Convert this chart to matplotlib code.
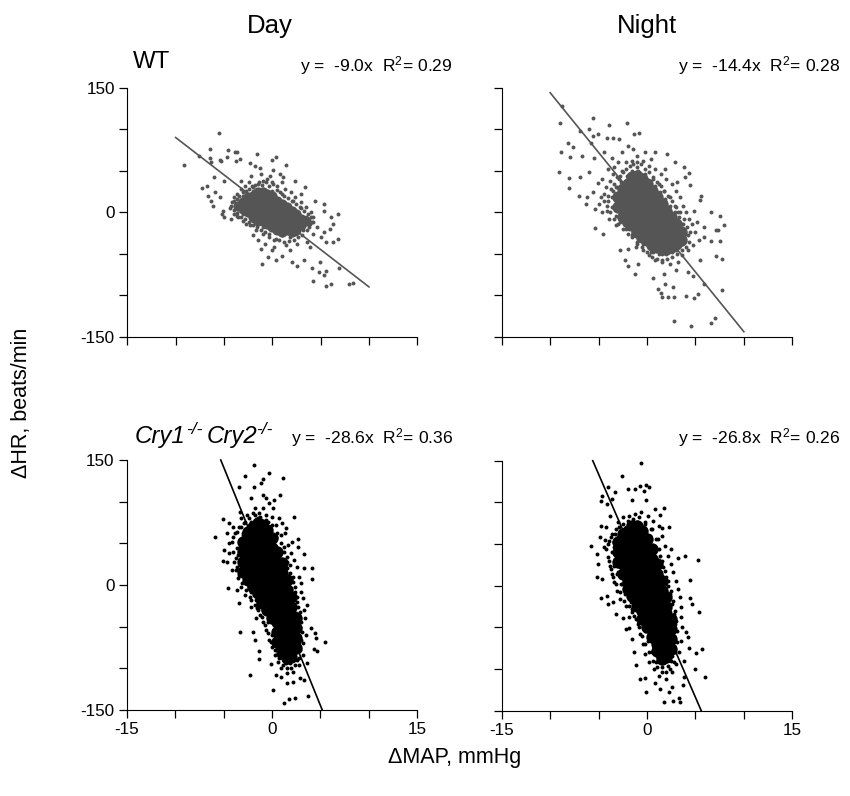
import matplotlib
matplotlib.use("Agg")
import matplotlib.pyplot as plt

plt.rcParams['font.family'] = ['Liberation Sans', 'DejaVu Sans']
plt.rcParams['mathtext.fontset'] = 'custom'
plt.rcParams['mathtext.rm'] = 'Liberation Sans'
plt.rcParams['mathtext.it'] = 'Liberation Sans:italic'

# solid part of each cloud, dMAP: [dHR, ...]
wt_day_core = {
    -3.5: [8], -3: [12, 4], -2.5: [18, 8, 0], -2: [20, 10, 2, -6], -1.5: [24, 14, 6, -4, -10],
    -1: [24, 16, 8, -2, -10], -0.5: [22, 14, 4, -6, -14], 0: [20, 10, 0, -10, -18],
    0.5: [14, 4, -6, -16, -22], 1: [10, 0, -10, -20, -24], 1.5: [6, -4, -14, -22],
    2: [2, -8, -18, -24], 2.5: [-2, -12, -22], 3: [-8, -16], 3.5: [-10],
}
wt_night_core = {
    -3: [18, 6], -2.5: [28, 16, 4, -6], -2: [34, 22, 10, -2, -12], -1.5: [42, 30, 18, 6, -6, -16],
    -1: [44, 32, 20, 8, -4, -16, -24], -0.5: [40, 28, 16, 4, -8, -20, -30],
    0: [34, 22, 10, -2, -14, -26, -34], 0.5: [26, 14, 2, -10, -22, -34, -40],
    1: [18, 6, -6, -18, -30, -42], 1.5: [10, -2, -14, -26, -38, -44], 2: [2, -10, -22, -34, -44],
    2.5: [-6, -18, -30, -42], 3: [-14, -26, -38], 3.5: [-24, -34],
}
cry_day_core = {
    -3: [52, 40, 28, 16], -2.5: [64, 52, 40, 28, 16, 6], -2: [70, 58, 46, 34, 22, 10, -2],
    -1.5: [74, 62, 50, 38, 26, 14, 2, -10], -1: [72, 60, 48, 36, 24, 12, 0, -12, -22],
    -0.5: [66, 54, 42, 30, 18, 6, -6, -18, -30], 0: [56, 44, 32, 20, 8, -4, -16, -28, -40],
    0.5: [40, 28, 16, 4, -8, -20, -32, -44, -56, -68], 1: [26, 14, 2, -10, -22, -34, -46, -58, -70, -82],
    1.5: [6, -6, -18, -30, -42, -54, -66, -78, -88], 2: [-14, -26, -38, -50, -62, -74, -86],
    2.5: [-40, -52, -64, -76],
}
cry_night_core = {
    -3: [52, 40, 28], -2.5: [62, 50, 38, 26, 14], -2: [66, 54, 42, 30, 18, 6, -4],
    -1.5: [72, 60, 48, 36, 24, 12, 0, -12], -1: [72, 60, 48, 36, 24, 12, 0, -12, -24],
    -0.5: [66, 54, 42, 30, 18, 6, -6, -18, -30, -40], 0: [56, 44, 32, 20, 8, -4, -16, -28, -40, -50],
    0.5: [44, 32, 20, 8, -4, -16, -28, -40, -52, -62], 1: [26, 14, 2, -10, -22, -34, -46, -58, -70, -78],
    1.5: [6, -6, -18, -30, -42, -54, -66, -78, -88], 2: [-14, -26, -38, -50, -62, -74, -86],
    2.5: [-40, -52, -64, -76],
}

# single dots (dMAP, dHR)
wt_day_pts = [
    (-9.1, 57), (-5.5, 96), (-6.4, 76), (-4.6, 75), (-3.9, 73), (-3.7, 72), (-7.6, 68), (-6.4, 65), (-4.7, 67),
    (-5.4, 63), (-5.3, 62), (-6.3, 61), (-3.3, 64), (-3.8, 62), (-1.6, 70), (0.4, 67), (0, 63), (1.4, 57),
    (-2.3, 59), (-1.8, 56), (-1.3, 53), (0.1, 51), (-7.3, 29), (-6.8, 32), (-6, 43), (-5, 37), (-5.9, 24),
    (-6.6, 20), (-6.3, 14), (-5.4, 18), (-6.1, 8), (-5.1, 2), (-5.2, -2), (-5, -6), (-4.3, -8), (-3.7, -4),
    (2.4, 38), (3.4, 30), (3, 22), (4.4, 14), (5.3, 10), (5.4, 2), (6.8, -2), (6.1, -6), (6.3, -14), (6, -20),
    (6.8, -32), (5.4, -24), (5.6, -36), (6.3, -36), (6.9, -67), (5.6, -71), (5.3, -76), (4.2, -83), (5.6, -89),
    (6.1, -87), (7.9, -87), (8.3, -85), (4.1, -67), (4.8, -72), (4.9, -60), (-1.1, -63), (-0.4, -54), (1, -53),
    (2, -60), (2.6, -65), (3.3, -57), (1.8, -46), (3.9, -42), (-1.2, -44), (-2, -28), (-2.7, -14), (0, -46), (0.4, -58),
    (-4.2, 12), (-4.4, 5), (-4, 18), (-3.6, 22), (-3.2, 28), (-2.8, 32), (-2.4, 36), (-2, 30), (-1.5, 34), (-1, 38),
    (-0.5, 40), (0, 36), (0.5, 32), (1, 36), (1.3, 28), (1.9, 24), (2.4, 18), (3, 12), (3.5, 6), (4, 0), (4.2, -6),
    (4.1, -12), (3.8, -18), (3.2, -22), (2.5, -26), (1.8, -30), (1, -28), (0.4, -32), (-0.3, -30), (-1, -26),
    (-1.7, -22), (-2.3, -16), (-3, -10), (-3.5, -6), (-4, -2), (-3, 20), (-2, 25), (-1, 28), (0, 26), (1, 22),
    (2, 14), (3, 5), (3.5, -6), (3, -15), (2, -20), (1, -22), (-1, -18), (-2, -10), (-3, -2), (-3.7, 8), (4.6, -18),
    (4.2, -26), (5, -30), (3.6, -36), (2.6, -38), (1.4, -40), (0.2, -42), (-0.8, -38), (-1.5, -34), (-3.2, 38),
    (-2.2, 44), (-1.2, 46), (-0.2, 44), (0.8, 46), (1.1, 42),
    (-4, 14), (-3.7, 16), (-3.4, 20), (-3, 24), (-2.7, 26), (-2.4, 28), (-2.1, 31), (-1.8, 33), (-1.4, 36), (-1.1, 33),
    (-0.7, 36), (-0.3, 32), (0.1, 34), (0.5, 27), (0.8, 24), (1.2, 20), (1.6, 17), (2.1, 14), (2.5, 10), (2.9, 6),
    (3.3, 2), (3.7, -2), (4, -6), (4.2, -12), (3.9, -14), (3.6, -21), (3.1, -27), (2.7, -30), (2.2, -33), (1.7, -35),
    (1.2, -36), (0.7, -34), (0.2, -33), (-0.3, -26), (-0.8, -24), (-1.2, -21), (-1.6, -18), (-2, -15), (-2.4, -12),
    (-2.8, -8), (-3.2, -6), (-3.6, -1), (-4, 3), (-4.3, 8),
]
wt_night_pts = [
    (-8.8, 128), (-9, 108), (-5.6, 114), (-3.9, 105), (-2.1, 107), (-6.9, 98), (-6, 100), (-5.1, 94), (-5.6, 92),
    (-8.2, 83), (-7.6, 78), (-8.9, 73), (-7.9, 67), (-6.7, 68), (-5.8, 83), (-4.1, 89), (-3.5, 89), (-2.9, 88),
    (-1.3, 94), (-0.8, 95), (-9.1, 49), (-8.1, 41), (-8.1, 29), (-6.9, 43), (-6, 49), (-7, 20), (-6.2, 18), (-6.3, 10),
    (-5.4, 4), (-5.4, -19), (-4.5, -26), (-5.1, 35), (-4.4, 73), (-5.5, 65), (-3.6, 65), (-4.6, 0), (-4.1, 2),
    (0.8, 73), (2.1, 70), (2.9, 60), (3.8, 55), (4.3, 47), (3.9, 43), (4.4, 33), (5.6, 20), (5.5, 15), (6.6, 0),
    (7.5, -4), (7.9, -16), (5.9, -18), (7.1, -22), (7.3, -22), (6.6, -35), (7.5, -35), (5.4, -34), (5.9, -30),
    (7.1, -53), (7.7, -56), (7.7, -94), (5.9, -86), (5.3, -98), (4.9, -103), (4, -101), (2.8, -131), (4.5, -137),
    (6.6, -134), (7, -127), (2.8, -102), (2.2, -102), (1.5, -102), (1.4, -97), (1.9, -86), (1.1, -92), (2.7, -90),
    (0.6, -79), (-1.2, -75), (-2, -65), (-2.3, -57), (-0.9, -63), (-2.8, -45), (-2, -44), (-1.1, -42), (4.2, -72),
    (4.7, -77), (5.5, -58), (3, -70), (1.8, -74),
    (-3.5, 46), (-3, 60), (-2.6, 72), (-2, 80), (-1.4, 76), (-1, 68), (-0.4, 62), (0.2, 56), (0.8, 52), (1.4, 46),
    (2, 40), (2.6, 34), (3, 26), (3.4, 18), (3.7, 8), (4, 0), (4.3, -8), (4.6, -14), (5, -24), (4.8, -40), (4.2, -46),
    (3.6, -52), (3.2, -60), (2.4, -62), (1.6, -60), (0.8, -58), (0.2, -52), (-0.4, -46), (-1, -36), (-1.6, -28),
    (-2.2, -20), (-2.8, -12), (-3.2, -4), (-3.6, 6), (-4, 14), (-4.4, 22), (-4.8, 18), (-4.2, 30), (-3.8, 38),
    (-3.2, 30), (-3, 20), (-3.1, 10), (-2.9, 40), (-2.6, 50), (-2.2, 60), (-1.6, 62), (-1, 54), (-0.2, 46), (0.6, 40),
    (1.2, 34), (1.8, 26), (2.4, 18), (2.9, 8), (3.2, 0), (3.6, -14), (3.8, -30), (3.2, -40), (2.6, -48), (1.6, -50),
    (0.6, -48), (-0.6, -32), (-1.4, -18), (-2.2, -6), (-2.8, 0), (-4.6, 40), (-4, 52), (-3.4, 54), (-5.6, 24), (-5, 10),
    (4.4, -24), (5.2, -12), (4.9, 2), (3.1, 36), (1.9, 52), (-0.2, 72), (0.4, 64), (-3.9, -8), (-3.2, -16),
    (-4, 20), (-3.7, 28), (-3.4, 34), (-3.1, 42), (-2.8, 44), (-2.5, 48), (-2.2, 52), (-1.8, 56), (-1.4, 58), (-1, 60),
    (-0.6, 58), (-0.2, 52), (0.2, 48), (0.6, 42), (1, 36), (1.4, 32), (1.8, 26), (2.2, 20), (2.6, 14), (3, 6), (3.4, 0),
    (3.8, -8), (4.1, -18), (4.2, -28), (4.3, -36), (4, -42), (3.6, -46), (3.1, -50), (2.6, -54), (2.1, -56), (1.6, -58),
    (1, -56), (0.5, -54), (0, -48), (-0.5, -42), (-1, -38), (-1.5, -30), (-2, -26), (-2.5, -20), (-3, -14), (-3.4, -8),
    (-3.8, 0), (-4.1, 8), (-4.4, 14), (-3.6, 18), (-3.4, 8), (-3.5, 26), (-3.1, 30), (-2.9, -6), (-2.4, -14), (-1.9, -20),
    (-1.4, -24), (-0.9, -32), (-0.4, -38), (0.4, -48), (1.2, -50), (2, -50), (3, -46), (3.6, -38), (3.9, -24), (3.7, -14),
    (3.3, -6), (2.9, 0), (2.4, 8), (1.9, 16), (1.3, 24), (0.8, 32), (0.3, 38), (-0.3, 44), (-0.9, 50), (-1.5, 50),
    (-2.1, 44), (-2.7, 36),
]
cry_day_pts = [
    (-1.9, 144), (-0.3, 134), (-2.8, 131), (1.1, 128), (-0.9, 127), (-1.1, 123), (-3.4, 118), (-1.9, 118), (-2.2, 105),
    (-0.9, 108), (0.8, 108), (-0.6, 104), (0.2, 102), (-0.3, 98), (-0.9, 93), (-1.8, 93), (0.1, 93), (-3.3, 88),
    (2.3, 82), (-5.1, 79), (-5.9, 58), (-4.5, 74), (-4.7, 63), (-4, 70), (-5, 42), (-5.1, 29), (-4.7, 28), (-4.4, 38),
    (-4.1, 18), (-4.6, -3), (-3.6, -6), (-3.4, -21), (-2.2, -26), (-1.7, -40), (-3.3, -56), (-2, -56), (-1.8, -66),
    (-1.3, -79), (-1.3, -89), (-2.3, -108), (-0.1, -95), (0.1, -126), (1.2, -142), (1.8, -137), (2.4, -135), (3.7, -133),
    (0.4, -108), (0.9, -110), (1.6, -117), (2.2, -116), (2.9, -111), (3.3, -114), (3.6, -94), (5.5, -68), (4.7, -79),
    (4.3, -77), (4.5, -64), (4.4, -57), (4, -51), (3.6, -24), (4.1, 7), (4.1, 20), (3.3, 20), (3.3, 37), (2.7, 55),
    (2.7, 46), (2.1, 52), (1.4, 68),
    (-3.2, 80), (-2.6, 84), (-2, 86), (-1.3, 86), (-0.6, 84), (0, 82), (0.7, 80), (1, 74), (1.3, 62), (1.7, 48), (2, 38),
    (2.3, 30), (2.6, 22), (2.8, 10), (3, 2), (3, -8), (3.2, -16), (3.3, -30), (3.4, -40), (3.5, -60), (3.2, -70),
    (3.2, -84), (2.8, -96), (2.2, -104), (1.5, -106), (0.9, -100), (0.6, -92), (0.3, -84), (0, -74), (-0.3, -66),
    (-0.6, -54), (-0.9, -44), (-1.2, -36), (-1.6, -28), (-2.2, -18), (-2.8, -12), (-3.2, -2), (-3.5, 8), (-3.7, 18),
    (-3.9, 28), (-4, 40), (-4.1, 52), (-3.8, 62), (-3.4, 70), (-2.9, 74), (-3, 60), (-3.3, 46), (-3.2, 30), (-3, 16),
    (-2.6, 2), (-2.2, -8), (-1.7, -18), (-1.2, -24), (1.5, 34), (1.9, 24), (2.2, 10), (2.4, -2), (2.6, -14), (2.7, -26),
    (2.8, -38), (2.9, -50), (2.6, -62), (2.5, -76), (2.1, -90), (1.4, -94), (0.5, -76), (0, -60), (-0.4, -44), (-0.9, -30),
    (0.9, 60), (0.4, 72), (-0.4, 76), (-1.2, 78), (-2.2, 76), (-2.6, 68), (1.2, 46), (1.6, 20), (1.1, -84), (1.8, -80),
    (1.4, -74), (0.9, -66), (1.9, -68), (2.2, -60), (0.6, -62), (1.5, -86), (0.9, -78), (2.3, -46),
    (-4.4, 50), (-4, 58), (-3.6, 64), (-3.2, 70), (-2.8, 76), (-2.4, 80), (-1.8, 84), (-1.2, 82), (-0.6, 78), (0, 72),
    (0.5, 62), (0.9, 50), (1.2, 40), (1.5, 28), (1.9, 14), (2.2, 4), (2.4, -8), (2.6, -20), (2.9, -32), (3, -44), (3.1, -56),
    (3, -66), (2.9, -78), (2.8, -88), (2.4, -96), (2, -100), (1.6, -100), (1.1, -96), (0.7, -88), (0.3, -78), (-0.1, -68),
    (-0.4, -58), (-0.7, -48), (-1, -38), (-1.4, -30), (-1.8, -24), (-2.3, -14), (-2.7, -6), (-3.1, 2), (-3.4, 12), (-3.6, 22),
    (-3.7, 32), (-3.6, 44), (-3.3, 54), (-3, 62), (-3.5, 36), (-3.3, 18), (-2.8, 8), (-2.4, -2), (-1.9, -12), (-1.4, -20),
    (2.6, -90), (2.3, -86), (1.9, -94), (1.5, -92), (2.8, -68), (2.7, -54), (2.5, -34), (2.3, -24), (2, -4), (1.6, 10),
    (1.2, 26), (0.8, 42), (0.4, 58), (-0.4, 68), (-1.4, 80),
]
cry_night_pts = [
    (-0.6, 147), (-2.6, 132), (-4, 118), (-3.3, 113), (-2, 116), (-1.2, 116), (-0.7, 120), (-0.1, 121), (0.2, 119),
    (-0.3, 114), (-4.6, 108), (-4.7, 102), (-3.6, 104), (-4.1, 98), (-0.1, 103), (-1.5, 103), (0.8, 92), (1.8, 93),
    (1.3, 85), (-3.8, 84), (-4.8, 72), (-4.2, 71), (2.3, 70), (1.6, 69), (-5.8, 48), (-4.9, 58), (-4.3, 55), (-5.2, 38),
    (-5.1, 26), (-5.2, 11), (-4.6, 8), (-4.8, -15), (-4.1, -12), (-4, -22), (-3.5, -20), (-3.2, -34), (-2.5, -39),
    (-1.9, -37), (-2.2, -52), (-1.9, -51), (-1.6, -64), (-1.3, -79), (-1.1, -95), (-0.7, -112), (-0.2, -111), (-0.1, -127),
    (0.8, -117), (1.3, -124), (1.8, -140), (2.7, -138), (3.3, -135), (3.4, -140), (2.3, -128), (2.6, -121), (3.7, -119),
    (3.8, -109), (6, -110), (5, -100), (5.7, -76), (5.1, -81), (4.3, -75), (3.8, -90), (4.2, -61), (4, -55), (5.4, -32),
    (4.6, -22), (4.4, -15), (4.4, 7), (5.3, 31), (3.9, 36), (3.2, 33), (2.5, 44),
    (-3, 76), (-2.5, 82), (-1.9, 84), (-1.2, 86), (-0.6, 88), (0.1, 84), (0.6, 78), (1.2, 72), (1.6, 60), (1.9, 48), (2.2, 36),
    (2.5, 26), (2.7, 16), (3, 6), (3.2, -4), (3.4, -14), (3.5, -26), (3.5, -38), (3.6, -50), (3.5, -66), (3.3, -80),
    (3, -94), (2.6, -104), (2, -112), (1.2, -108), (0.7, -100), (0.2, -92), (-0.2, -82), (-0.4, -70), (-0.7, -58),
    (-0.9, -46), (-1.3, -36), (-1.6, -28), (-2.2, -24), (-2.8, -16), (-3.1, -6), (-3.4, 4), (-3.6, 14), (-3.8, 24),
    (-4, 34), (-4.2, 44), (-3.9, 54), (-3.6, 62), (-3.2, 68), (-3.4, 46), (-3.2, 30), (-3, 16), (-2.7, 2), (-2.3, -10),
    (-1.7, -20), (1.3, 36), (1.7, 22), (2, 10), (2.2, 0), (2.4, -10), (2.6, -22), (2.8, -34), (2.9, -46), (2.8, -60),
    (2.8, -72), (2.6, -84), (2.2, -96), (1.6, -98), (0.9, -92), (0.5, -80), (0.1, -66), (-0.2, -54), (1.1, 56), (0.5, 68),
    (-0.2, 74), (-1, 76), (-2, 74), (-2.8, 66), (1.8, -80), (1.3, -74), (2.2, -68), (0.8, -70), (1.5, -86), (2.2, -50),
    (2.3, -78), (1, -84), (1.7, -68), (2.4, -60), (0.6, -60),
    (-4.4, 46), (-4, 50), (-3.7, 58), (-3.3, 62), (-2.9, 70), (-2.5, 74), (-2, 78), (-1.4, 80), (-0.8, 82), (-0.2, 76),
    (0.4, 68), (0.9, 56), (1.2, 44), (1.5, 30), (1.9, 18), (2.2, 6), (2.5, -6), (2.7, -18), (2.9, -30), (3, -42), (3.1, -54),
    (3.1, -68), (2.9, -80), (2.8, -92), (2.4, -100), (2, -104), (1.5, -104), (1, -98), (0.6, -90), (0.2, -80), (-0.2, -70),
    (-0.5, -60), (-0.8, -50), (-1.1, -40), (-1.5, -32), (-1.9, -24), (-2.4, -18), (-2.8, -8), (-3.2, 2), (-3.5, 10), (-3.7, 20),
    (-3.9, 30), (-3.6, 40), (-3.4, 52), (-3, 58), (-3.4, 24), (-3.1, 14), (-2.6, 2), (-2.2, -8), (-1.7, -16), (2.5, -90),
    (2.2, -84), (1.8, -92), (1.4, -90), (2.7, -64), (2.6, -48), (2.4, -32), (2.2, -20), (1.9, -4), (1.5, 12), (1.1, 28),
    (0.7, 46), (0.3, 60), (-0.4, 68), (-1.2, 74),
]

wt_day_line = ([-10, 10], [90, -90])
wt_night_line = ([-10, 10], [144, -144])
cry_day_line = ([-5.3, 5.2], [150, -150])
cry_night_line = ([-5.6, 5.6], [150, -150])

x_ticks = [-15, -10, -5, 0, 5, 10, 15]
y_ticks = [-150, -100, -50, 0, 50, 100, 150]
W, H = 850, 796


def make_axes(left, right, top, bottom):
    return plt.gcf().add_axes([left / W, 1 - bottom / H, (right - left) / W, (bottom - top) / H])


def draw(ax, core, core_s, pts, line, color, xlab, ylab):
    for x, ys in core.items():
        ax.scatter([x] * len(ys), ys, s=core_s, c=color, linewidths=0, clip_on=False)
    px, py = zip(*pts)
    ax.scatter(px, py, s=8, c=color, linewidths=0, clip_on=False)
    ax.plot(line[0], line[1], color=color, lw=1.2, clip_on=False)
    ax.set_xlim(-15, 15)
    ax.set_ylim(-150, 150)
    ax.set_xticks(x_ticks)
    ax.set_yticks(y_ticks)
    ax.set_xticklabels(['-15', '', '', '0', '', '', '15'] if xlab else [''] * 7)
    ax.set_yticklabels(['-150', '', '', '0', '', '', '150'] if ylab else [''] * 7)
    ax.tick_params(length=6, width=0.9, labelsize=12.3, pad=3)
    ax.spines['top'].set_visible(False)
    ax.spines['right'].set_visible(False)
    ax.patch.set_alpha(0)


fig = plt.figure(figsize=(W / 100, H / 100), dpi=100)
gray = '#555555'
draw(make_axes(127.3, 417.3, 87.7, 336.7), wt_day_core, 55, wt_day_pts, wt_day_line, gray, False, True)
draw(make_axes(501.7, 792.3, 87.7, 336.7), wt_night_core, 80, wt_night_pts, wt_night_line, gray, False, False)
draw(make_axes(127, 417, 460, 710), cry_day_core, 80, cry_day_pts, cry_day_line, 'black', True, True)
draw(make_axes(501.7, 792.3, 460.7, 710.7), cry_night_core, 80, cry_night_pts, cry_night_line, 'black', True, False)


def label(px, py, s, **kw):
    fig.text(px / W, 1 - py / H, s, **kw)


label(270, 26, 'Day', fontsize=18.5, ha='center', va='center')
label(647, 26, 'Night', fontsize=18.5, ha='center', va='center')
label(133, 62, 'WT', fontsize=17.3, ha='left', va='center')
label(135, 437, 'Cry1', fontsize=17.3, style='italic', ha='left', va='center')
label(186, 430, '-/-', fontsize=12.5, style='italic', ha='left', va='center')
label(207, 437, 'Cry2', fontsize=17.3, style='italic', ha='left', va='center')
label(256, 430, '-/-', fontsize=12.5, style='italic', ha='left', va='center')
label(453, 66, 'y =  -9.0x  R$^{2}$= 0.29', fontsize=12.6, ha='right', va='center')
label(840, 66, 'y =  -14.4x  R$^{2}$= 0.28', fontsize=12.6, ha='right', va='center')
label(453, 438, 'y =  -28.6x  R$^{2}$= 0.36', fontsize=12.6, ha='right', va='center')
label(840, 438, 'y =  -26.8x  R$^{2}$= 0.26', fontsize=12.6, ha='right', va='center')
label(22, 403, 'ΔHR, beats/min', fontsize=15.5, rotation=90, ha='center', va='center')
label(455, 757, 'ΔMAP, mmHg', fontsize=15.5, ha='center', va='center')

fig.savefig('out.png', dpi=100)
